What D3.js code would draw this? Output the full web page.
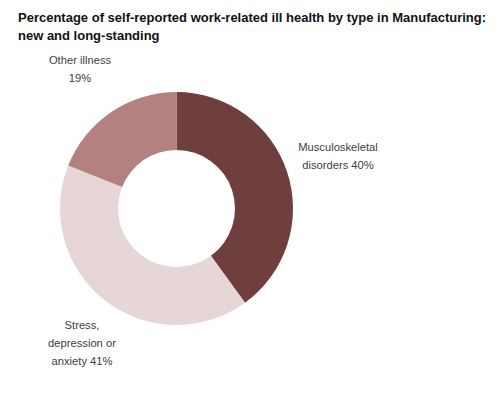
<!DOCTYPE html>
<html>
<head>
<meta charset="utf-8">
<script src="https://cdn.jsdelivr.net/npm/d3@7"></script>
<style>
  body { margin: 0; background: #fff; }
  text { font-family: "Liberation Sans", Arial, sans-serif; }
</style>
</head>
<body>
<div id="chart"></div>
<script>
// data
const categories = ["Musculoskeletal disorders", "Stress, depression or anxiety", "Other illness"]
const values = [40, 41, 19]
const colors = ["#6f3f3d", "#e6d6d6", "#b3827e"]
const labelLines = [
    ["Musculoskeletal", "disorders 40%"],
    ["Stress,", "depression or", "anxiety 41%"],
    ["Other illness", "19%"]
]
const labelPos = [[338, 147], [82, 325], [80, 60]]

const width = 503, height = 400
const cx = 176.5, cy = 208.5
const outerR = 116.5, innerR = 58.5

const svg = d3.select("#chart").append("svg")
    .attr("width", width)
    .attr("height", height)

// title
const title = svg.append("text")
    .attr("x", 18)
    .attr("y", 22)
    .attr("font-size", "13px")
    .attr("font-weight", "bold")
    .attr("fill", "#111")
title.append("tspan").attr("x", 18).text("Percentage of self-reported work-related ill health by type in Manufacturing:")
title.append("tspan").attr("x", 18).attr("dy", "17.5px").text("new and long-standing")

const pie = d3.pie().sort(null).value(d => d)
const arc = d3.arc().innerRadius(innerR).outerRadius(outerR)

const g = svg.append("g")
    .attr("transform", `translate(${cx},${cy})`)

g.selectAll("path")
    .data(pie(values))
    .join("path")
        .attr("d", arc)
        .attr("fill", (d, i) => colors[i])

// labels
svg.selectAll("text.label")
    .data(labelLines)
    .join("text")
        .attr("class", "label")
        .attr("text-anchor", "middle")
        .attr("font-size", "11.2px")
        .attr("fill", "#404040")
        .attr("transform", (d, i) => `translate(${labelPos[i][0]},${labelPos[i][1]})`)
    .selectAll("tspan")
    .data(d => d)
    .join("tspan")
        .attr("x", 0)
        .attr("y", (d, i) => i * 18)
        .attr("dy", "0.35em")
        .text(d => d)
</script>
</body>
</html>
